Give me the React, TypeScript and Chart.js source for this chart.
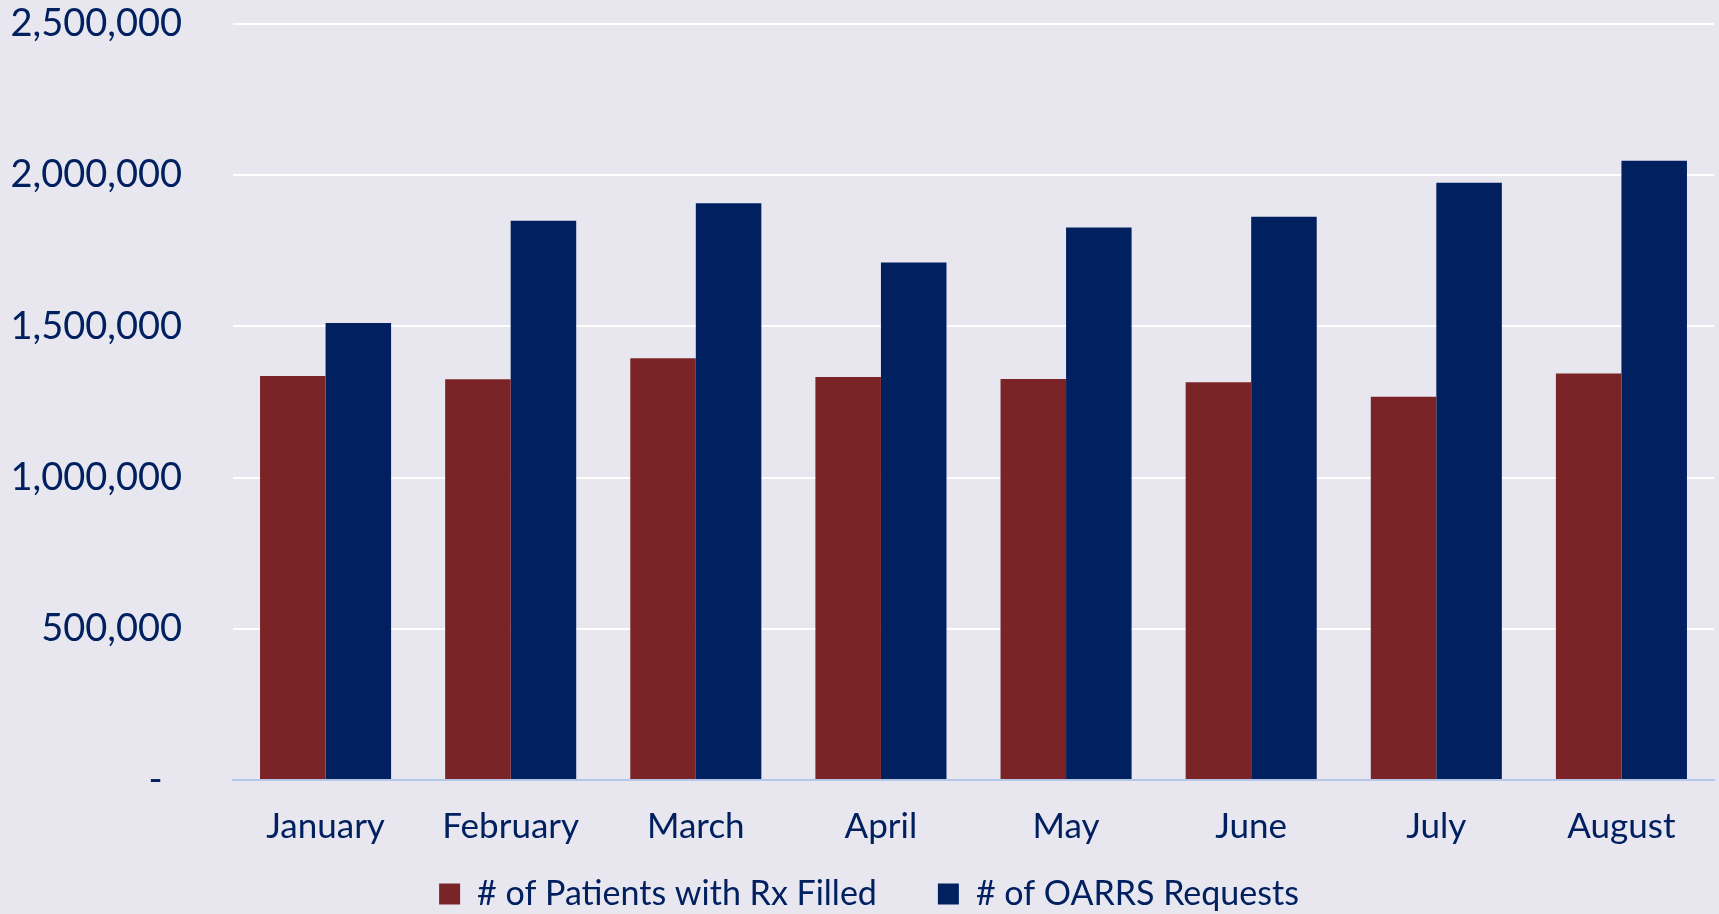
import React, { useEffect, useRef } from "react";
import { Chart, registerables } from "chart.js";

Chart.register(...registerables);

const months = ["January", "February", "March", "April", "May", "June", "July", "August"];
const patientsRxFilled = [1336000, 1325000, 1395000, 1333000, 1326000, 1315000, 1267000, 1344000];
const oarrsRequests = [1511000, 1849000, 1907000, 1711000, 1827000, 1863000, 1975000, 2048000];
const seriesLabels = ["# of Patients with Rx Filled", "# of OARRS Requests"];
const yMax = 2500000;
const yStep = 500000;

const BG = "#E8E7F0";
const TEXT = "#002060";
const RED = "#7B2428";
const BLUE = "#002060";

const unclip = {
  id: "unclip",
  beforeDraw(chart: any) {
    chart.scales.x.bottom = chart.height;
    chart.scales.y.left = 0;
  },
};

export default function App() {
  const ref = useRef<HTMLCanvasElement | null>(null);
  useEffect(() => {
    document.body.style.margin = "0";
    document.body.style.background = BG;
    const ctx = ref.current!;
    const chart = new Chart(ctx, {
      type: "bar",
      data: {
        labels: months,
        datasets: [
          { label: seriesLabels[0], data: patientsRxFilled, backgroundColor: RED, borderWidth: 0 },
          { label: seriesLabels[1], data: oarrsRequests, backgroundColor: BLUE, borderWidth: 0 },
        ],
      },
      plugins: [unclip],
      options: {
        animation: false,
        responsive: true,
        maintainAspectRatio: false,
        layout: { padding: { left: 24, right: 5, top: 24, bottom: 0 } },
        plugins: {
          tooltip: { enabled: false },
          legend: {
            position: "bottom",
            labels: {
              font: { family: "Lato", size: 34 },
              color: TEXT,
              boxWidth: 21,
              boxHeight: 21,
              padding: 61,
            },
          },
        },
        datasets: { bar: { categoryPercentage: 0.708, barPercentage: 1 } },
        scales: {
          x: {
            grid: { display: false, drawTicks: false },
            border: { display: true, color: "#B4C7E7", width: 2 },
            ticks: { font: { family: "Lato", size: 35 }, color: TEXT, padding: 26 },
            afterFit: (s: any) => { s.height = 36; },
          },
          y: {
            min: 0,
            max: yMax,
            grid: {
              color: (c: any) => (c.tick && c.tick.value === 0 ? "rgba(0,0,0,0)" : "#FFFFFF"),
              lineWidth: 2,
              drawTicks: false,
            },
            border: { display: false },
            ticks: {
              stepSize: yStep,
              font: { family: "Lato", size: 38 },
              color: TEXT,
              padding: 51,
              callback: (v: any) => (v === 0 ? "-  " : Number(v).toLocaleString("en-US")),
            },
            afterFit: (s: any) => { s.width = 209; s.paddingTop = 0; s.paddingBottom = 0; },
          },
        },
      },
    });
    return () => chart.destroy();
  }, []);
  return (
    <div style={{ position: "fixed", left: 0, top: 0, width: 1719, height: 921, background: BG }}>
      <canvas ref={ref} />
    </div>
  );
}
